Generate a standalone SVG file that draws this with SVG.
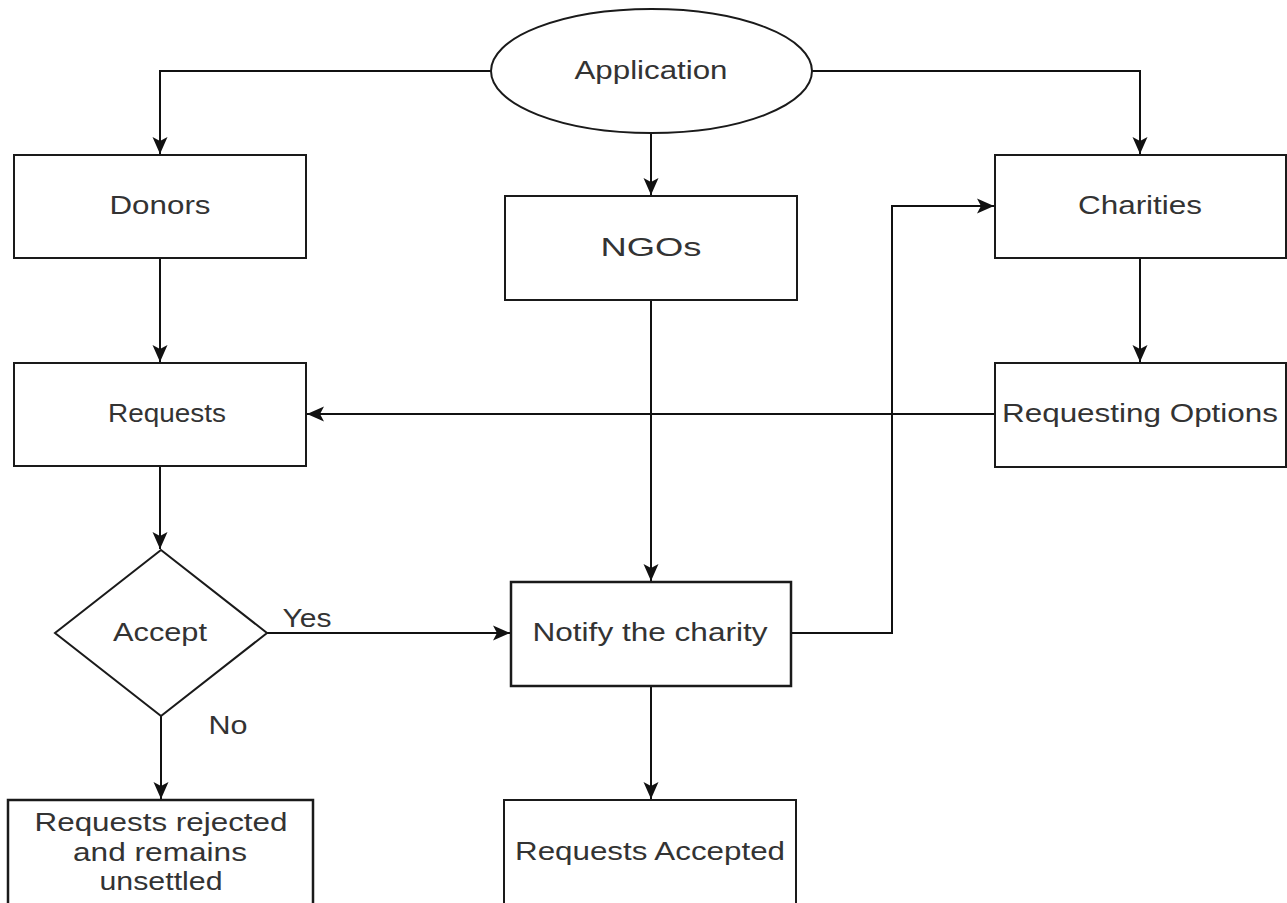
<svg xmlns="http://www.w3.org/2000/svg" width="1287" height="903" viewBox="0 0 1287 903">
<style>
.n{fill:#fff;stroke:#1a1a1a;stroke-width:2}
.t{font-family:"Liberation Sans",Arial,sans-serif;font-size:26px;fill:#333;text-anchor:middle;dominant-baseline:central}
.c{fill:none;stroke:#111;stroke-width:2}
</style>
<defs>
<marker id="a" markerUnits="userSpaceOnUse" markerWidth="18" markerHeight="16" refX="17" refY="8" orient="auto">
<path d="M0,0.5 L17,8 L0,15.5 L4,8 Z" fill="#111"/>
</marker>
</defs>
<rect width="1287" height="903" fill="#fff"/>
<g id="connectors">
<path class="c" d="M491,71 H160 V154" marker-end="url(#a)"/>
<path class="c" d="M651,133 V195" marker-end="url(#a)"/>
<path class="c" d="M812,71 H1140 V154" marker-end="url(#a)"/>
<path class="c" d="M160,258 V362" marker-end="url(#a)"/>
<path class="c" d="M1140,258 V362" marker-end="url(#a)"/>
<path class="c" d="M995,414 H307" marker-end="url(#a)"/>
<path class="c" d="M651,300 V581" marker-end="url(#a)"/>
<path class="c" d="M160,466 V549" marker-end="url(#a)"/>
<path class="c" d="M267,633 H510" marker-end="url(#a)"/>
<path class="c" d="M161,716 V799" marker-end="url(#a)"/>
<path class="c" d="M791,633 H892 V206 H994" marker-end="url(#a)"/>
<path class="c" d="M651,686 V799" marker-end="url(#a)"/>
<text class="t" x="307" y="618" textLength="49" lengthAdjust="spacingAndGlyphs">Yes</text>
<text class="t" x="228" y="725" textLength="39" lengthAdjust="spacingAndGlyphs">No</text>
</g>
<g id="application">
<ellipse class="n" cx="651.5" cy="71" rx="160.5" ry="62"/>
<text class="t" x="651" y="70" textLength="153" lengthAdjust="spacingAndGlyphs">Application</text>
</g>
<g id="donors">
<rect class="n" x="14" y="155" width="292" height="103"/>
<text class="t" x="160" y="205" textLength="101" lengthAdjust="spacingAndGlyphs">Donors</text>
</g>
<g id="ngos">
<rect class="n" x="505" y="196" width="292" height="104"/>
<text class="t" x="651" y="247" textLength="101" lengthAdjust="spacingAndGlyphs">NGOs</text>
</g>
<g id="charities">
<rect class="n" x="995" y="155" width="291" height="103"/>
<text class="t" x="1140" y="205" textLength="124" lengthAdjust="spacingAndGlyphs">Charities</text>
</g>
<g id="requests">
<rect class="n" x="14" y="363" width="292" height="103"/>
<text class="t" x="167" y="413" textLength="118" lengthAdjust="spacingAndGlyphs">Requests</text>
</g>
<g id="requesting-options">
<rect class="n" x="995" y="363" width="291" height="104"/>
<text class="t" x="1140" y="413" textLength="276" lengthAdjust="spacingAndGlyphs">Requesting Options</text>
</g>
<g id="accept">
<polygon class="n" points="161,550 267,633 161,716 55,633"/>
<text class="t" x="160" y="632" textLength="94" lengthAdjust="spacingAndGlyphs">Accept</text>
</g>
<g id="notify">
<rect class="n" x="511" y="582" width="280" height="104" style="stroke-width:2.5"/>
<text class="t" x="650" y="632" textLength="235" lengthAdjust="spacingAndGlyphs">Notify the charity</text>
</g>
<g id="rejected">
<rect class="n" x="8" y="800" width="305" height="120" style="stroke-width:2.5"/>
<text class="t" x="161" y="822" textLength="253" lengthAdjust="spacingAndGlyphs">Requests rejected</text>
<text class="t" x="160" y="852" textLength="174" lengthAdjust="spacingAndGlyphs">and remains</text>
<text class="t" x="161" y="881" textLength="123" lengthAdjust="spacingAndGlyphs">unsettled</text>
</g>
<g id="accepted">
<rect class="n" x="504" y="800" width="292" height="120"/>
<text class="t" x="650" y="851" textLength="270" lengthAdjust="spacingAndGlyphs">Requests Accepted</text>
</g>
</svg>
